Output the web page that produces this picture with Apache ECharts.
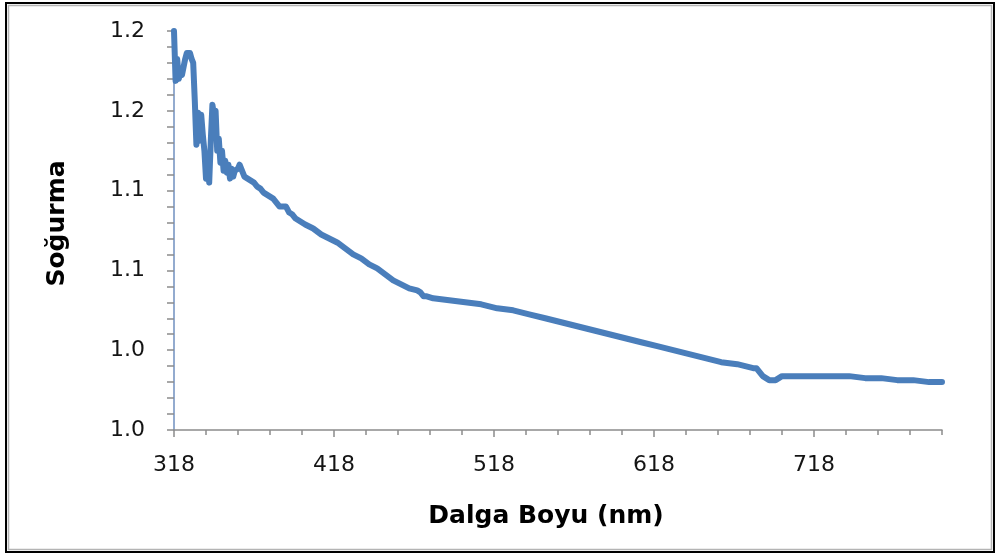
<!DOCTYPE html>
<html>
<head>
<meta charset="utf-8">
<script src="https://cdn.jsdelivr.net/npm/echarts@6/dist/echarts.min.js"></script>
<style>
  html, body { margin: 0; padding: 0; background: #ffffff; }
  #chart { width: 997px; height: 556px; }
</style>
</head>
<body>
<div id="chart"></div>
<script>
// Absorbance spectrum: wavelength (nm) and absorbance readings
const wavelengths = [
  318, 319, 320, 321, 322, 323, 324, 325, 326, 327, 328, 329, 330, 331, 332, 333, 334, 335, 336, 337,
  338, 339, 340, 341, 342, 343, 344, 345, 346, 347, 348, 349, 350, 351, 352, 353, 354, 355, 356, 357,
  358, 359, 360, 361, 362, 364, 366, 368, 370, 372, 374, 376, 378, 380, 382, 384, 386, 388, 390, 392,
  394, 396, 400, 405, 410, 415, 420, 425, 430, 435, 440, 445, 450, 455, 460, 465, 470, 472, 474, 476,
  480, 490, 500, 510, 520, 530, 540, 550, 560, 570, 580, 590, 600, 610, 620, 630, 640, 650, 660, 670,
  680, 682, 684, 686, 688, 690, 692, 694, 696, 698, 700, 710, 720, 730, 740, 750, 760, 770, 780, 790, 798
];
const absorbance = [
  1.200, 1.175, 1.186, 1.176, 1.180, 1.178, 1.182, 1.186, 1.189, 1.190, 1.189, 1.186, 1.184, 1.165, 1.143, 1.159, 1.145, 1.158, 1.148, 1.140,
  1.126, 1.135, 1.124, 1.145, 1.163, 1.158, 1.160, 1.140, 1.146, 1.134, 1.140, 1.130, 1.135, 1.129, 1.133, 1.126, 1.131, 1.127, 1.130, 1.129,
  1.131, 1.133, 1.132, 1.129, 1.127, 1.126, 1.125, 1.124, 1.122, 1.121, 1.119, 1.118, 1.117, 1.116, 1.114, 1.112, 1.112, 1.112, 1.109, 1.108,
  1.106, 1.105, 1.103, 1.101, 1.098, 1.096, 1.094, 1.091, 1.088, 1.086, 1.083, 1.081, 1.078, 1.075, 1.073, 1.071, 1.070, 1.069, 1.067, 1.067,
  1.066, 1.065, 1.064, 1.063, 1.061, 1.060, 1.058, 1.056, 1.054, 1.052, 1.050, 1.048, 1.046, 1.044, 1.042, 1.040, 1.038, 1.036, 1.034, 1.033,
  1.031, 1.031, 1.029, 1.027, 1.026, 1.025, 1.025, 1.025, 1.026, 1.027, 1.027, 1.027, 1.027, 1.027, 1.027, 1.026, 1.026, 1.025, 1.025, 1.024, 1.024
];

// Axis ticks and labels
const xTickLabels = [318, 418, 518, 618, 718];
const xMinorStep = 20;
const xMin = 318, xMax = 798;
const yTickLabels = ['1.0', '1.0', '1.1', '1.1', '1.2', '1.2'];
const yMin = 1.0, yMax = 1.2, yStep = 0.04;

const xMinorTicks = [];
for (let v = xMin; v <= xMax; v += xMinorStep) xMinorTicks.push(v);

const axisGray = '#8c8c8c';
const labelFont = { fontFamily: 'DejaVu Sans', fontSize: 22, color: '#141414' };
const titleFont = { fontFamily: 'DejaVu Sans', fontWeight: 'bold', fontSize: 25, color: '#000000' };

const chart = echarts.init(document.getElementById('chart'), null, { renderer: 'canvas' });

chart.setOption({
  backgroundColor: '#ffffff',
  animation: false,
  graphic: [
    { type: 'rect', shape: { x: 6, y: 3, width: 988, height: 549 }, style: { fill: 'none', stroke: '#000000', lineWidth: 2 }, z: 0 },
    { type: 'rect', shape: { x: 8.5, y: 5.5, width: 983, height: 544 }, style: { fill: 'none', stroke: '#b4b4b4', lineWidth: 1.5 }, z: 0 }
  ],
  grid: { left: 174, right: 55, top: 31, bottom: 126 },
  xAxis: [
    {
      type: 'value',
      min: xMin,
      max: xMax,
      name: 'Dalga Boyu (nm)',
      nameLocation: 'middle',
      nameGap: 74,
      nameTextStyle: { ...titleFont, padding: [0, 24, 0, 0] },
      axisLine: { show: true, lineStyle: { color: axisGray, width: 1.5 } },
      axisTick: { show: true, customValues: xTickLabels, length: 7, lineStyle: { color: axisGray, width: 1.5 } },
      axisLabel: { show: true, customValues: xTickLabels, margin: 24, ...labelFont },
      splitLine: { show: false }
    },
    {
      type: 'value',
      min: xMin,
      max: xMax,
      position: 'bottom',
      axisLine: { show: false },
      axisTick: { show: true, customValues: xMinorTicks, length: 5, lineStyle: { color: axisGray, width: 1.5 } },
      axisLabel: { show: false },
      splitLine: { show: false }
    }
  ],
  yAxis: {
    type: 'value',
    min: yMin,
    max: yMax,
    interval: yStep,
    name: 'Soğurma',
    nameLocation: 'middle',
    nameGap: 104,
    nameRotate: 90,
    nameTextStyle: { ...titleFont, padding: [0, 0, 0, 14] },
    axisLine: { show: true, lineStyle: { color: '#6f8fbf', width: 1.5 } },
    axisTick: { show: true, length: 7, lineStyle: { color: axisGray, width: 1.5 } },
    minorTick: { show: true, splitNumber: 5, length: 7, lineStyle: { color: axisGray, width: 1.5 } },
    axisLabel: {
      margin: 29,
      ...labelFont,
      formatter: (v) => yTickLabels[Math.round((v - yMin) / yStep)]
    },
    splitLine: { show: false }
  },
  series: [{
    type: 'line',
    xAxisIndex: 0,
    data: wavelengths.map((w, i) => [w, absorbance[i]]),
    showSymbol: false,
    clip: false,
    lineStyle: { color: '#4a7ebb', width: 6, join: 'round', cap: 'round' }
  }]
});
</script>
</body>
</html>
